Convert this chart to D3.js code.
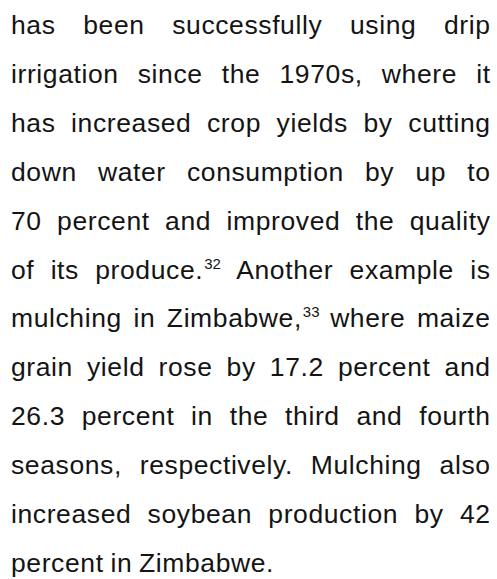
<!DOCTYPE html>
<html>
<head>
<meta charset="utf-8">
<script src="https://cdn.jsdelivr.net/npm/d3@7"></script>
<style>
  html, body { margin: 0; padding: 0; background: #fff; }
  svg { display: block; }
</style>
</head>
<body>
<svg id="page"></svg>
<script>
const width = 497, height = 579

// paragraph lines as set in the reference; ^nn marks a superscript note
const lines = [
  "has been successfully using drip",
  "irrigation since the 1970s, where it",
  "has increased crop yields by cutting",
  "down water consumption by up to",
  "70 percent and improved the quality",
  "of its produce.^32 Another example is",
  "mulching in Zimbabwe,^33 where maize",
  "grain yield rose by 17.2 percent and",
  "26.3 percent in the third and fourth",
  "seasons, respectively. Mulching also",
  "increased soybean production by 42",
  "percent in Zimbabwe."
]
const lastLine = lines.length - 1

const svg = d3.select("#page").attr("width", width).attr("height", height)
svg.append("rect").attr("width", width).attr("height", height).attr("fill", "#fff")

// baseline of each line, and the left / right edge of the text block
const y = d3.scaleLinear().domain([0, lastLine]).range([34, 572])
const x = d3.scaleLinear().domain([0, 1]).range([11, 490])

const g = svg.append("g")
  .attr("font-family", "'Liberation Sans', Arial, Helvetica, sans-serif")
  .attr("font-size", 26.5)
  .attr("letter-spacing", 0.6)
  .attr("fill", "#141414")

lines.forEach(function(line, i){
  const words = line.split(" ")
  const row = g.append("g").attr("class", "line")

  const nodes = words.map(function(w){
    const t = row.append("text").attr("y", y(i))
    const parts = w.split("^")
    t.append("tspan").text(parts[0])
    if (parts[1]) {
      t.append("tspan")
        .attr("font-size", 15)
        .attr("letter-spacing", 0)
        .attr("dy", -10)
        .attr("dx", 1)
        .text(parts[1])
    }
    return t
  })

  // trailing letter-spacing is not part of the ink, drop it from the width
  const widths = nodes.map(t => t.node().getComputedTextLength() - 0.6)
  const used = d3.sum(widths)
  let gap = 7.4
  if (i !== lastLine && words.length > 1) {
    gap = (x(1) - x(0) - used) / (words.length - 1)
  }

  let cx = x(0)
  nodes.forEach(function(t, k){
    t.attr("x", cx)
    cx += widths[k] + gap
  })
})
</script>
</body>
</html>
